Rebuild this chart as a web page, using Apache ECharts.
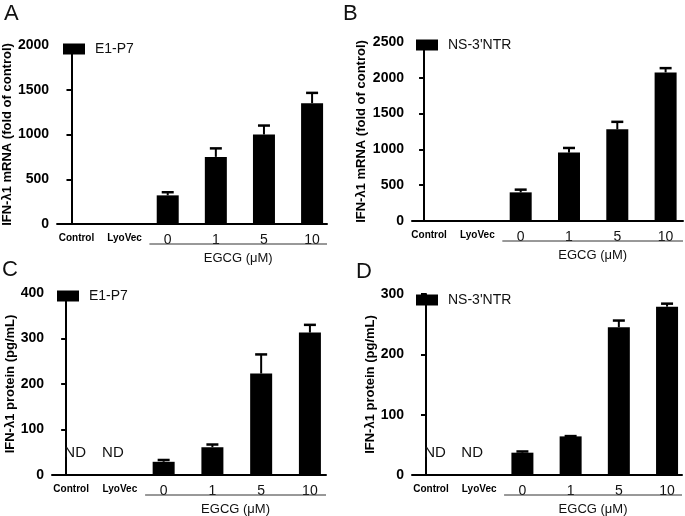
<!DOCTYPE html>
<html>
<head>
<meta charset="utf-8">
<script src="https://cdn.jsdelivr.net/npm/echarts@6/dist/echarts.min.js"></script>
<style>
html,body{margin:0;padding:0;background:#fff;}
#chart{width:685px;height:516px;}
</style>
</head>
<body>
<div id="chart"></div>
<script>
// ---------- data ----------
const categories = ['Control', 'LyoVec', '0', '1', '5', '10'];
const groupLabel = 'EGCG (μM)';

const seriesNames = ['E1-P7', 'NS-3\'NTR', 'E1-P7', 'NS-3\'NTR'];
const yTitles = ['IFN-λ1 mRNA (fold of control)', 'IFN-λ1 mRNA (fold of control)',
                 'IFN-λ1 protein (pg/mL)', 'IFN-λ1 protein (pg/mL)'];
const panelLetters = ['A', 'B', 'C', 'D'];

// panel A: mRNA, E1-P7
const mrnaE1 = [null, null, 320, 750, 1000, 1350];
const mrnaE1Err = [null, null, 35, 95, 100, 115];
// panel B: mRNA, NS-3'NTR
const mrnaNS = [null, null, 400, 955, 1280, 2075];
const mrnaNSErr = [null, null, 38, 65, 105, 60];
// panel C: protein, E1-P7
const protE1 = [null, null, 29, 61, 223, 313];
const protE1Err = [null, null, 4, 6, 42, 17];
// panel D: protein, NS-3'NTR
const protNS = [null, null, 37, 64, 245, 279];
const protNSErr = [null, null, 2, 0.5, 11, 5];
// not detected markers (panels C, D)
const notDetected = ['ND', 'ND', null, null, null, null];

// y axis ticks
const yMax = [2000, 2500, 400, 300];
const yStep = [500, 500, 100, 100];

// ---------- layout ----------
const grids = [
  {left: 57, top: 45, width: 270, height: 179},
  {left: 412, top: 42, width: 271, height: 179},
  {left: 52, top: 293, width: 274, height: 182},
  {left: 412, top: 294, width: 270, height: 181}
];
const xRange = [[-0.3, 5.31], [-0.25, 5.36], [-0.29, 5.33], [-0.29, 5.31]];
const nameGaps = [41, 44, 35, 34];
const legendPos = [{left: 63, top: 42}, {left: 416, top: 38}, {left: 57, top: 289}, {left: 416, top: 293}];
const letterPos = [[4, 3], [343, 3], [2, 259], [356, 261]];
const ndShift = [9, -2];

const panelValues = [mrnaE1, mrnaNS, protE1, protNS];
const panelErrs = [mrnaE1Err, mrnaNSErr, protE1Err, protNSErr];
const panelND = [null, null, notDetected, notDetected];

const FONT = 'Liberation Sans, Arial, sans-serif';

const chart = echarts.init(document.getElementById('chart'), null, {renderer: 'canvas'});

const xAxes = [], yAxes = [], series = [], legends = [], graphics = [];

for (let p = 0; p < 4; p++) {
  xAxes.push({
    type: 'value', gridIndex: p, min: xRange[p][0], max: xRange[p][1],
    splitLine: {show: false},
    axisLine: {show: true, onZero: false, lineStyle: {color: '#000', width: 2}},
    axisTick: {show: false},
    axisLabel: {
      show: true, customValues: [0, 1, 2, 3, 4, 5], margin: 9,
      formatter: function (v) {
        const c = categories[Math.round(v)];
        if (Math.round(v) < 2) return '{b|' + c + '}';
        return '{n|' + c + '}';
      },
      rich: {
        b: {fontFamily: FONT, fontWeight: 'bold', fontSize: 10, color: '#000', padding: [0, 0, 0, 10]},
        n: {fontFamily: FONT, fontSize: 14, color: '#111'}
      }
    }
  });
  yAxes.push({
    type: 'value', gridIndex: p, min: 0, max: yMax[p], interval: yStep[p],
    name: yTitles[p], nameLocation: 'middle', nameRotate: 90, nameGap: nameGaps[p],
    nameTextStyle: {fontFamily: FONT, fontWeight: 'bold', fontSize: 13, color: '#000'},
    splitLine: {show: false},
    axisLine: {show: true, lineStyle: {color: '#000', width: 2}},
    axisTick: {show: true, inside: false, length: 5, lineStyle: {color: '#000', width: 2}},
    axisLabel: {fontFamily: FONT, fontWeight: 'bold', fontSize: 14, color: '#000', margin: 8,
      formatter: function (v) { return String(v); }}
  });

  const vals = panelValues[p], errs = panelErrs[p];
  series.push({
    name: seriesNames[p], type: 'bar', xAxisIndex: p, yAxisIndex: p,
    barWidth: 22, itemStyle: {color: '#000'},
    data: vals.map((v, i) => v == null ? null : [i, v]).filter(d => d),
    z: 2
  });
  series.push({
    type: 'custom', xAxisIndex: p, yAxisIndex: p, clip: false, z: 3,
    data: vals.map((v, i) => v == null ? null : [i, v, errs[i]]).filter(d => d),
    renderItem: function (params, api) {
      const x = api.value(0), y = api.value(1), e = api.value(2);
      const b = api.coord([x, y]);
      const t = api.coord([x, y + e]);
      const hw = 6;
      return {
        type: 'group', children: [
          {type: 'line', shape: {x1: b[0], y1: b[1], x2: t[0], y2: t[1]}, style: {stroke: '#000', lineWidth: 2}},
          {type: 'line', shape: {x1: t[0] - hw, y1: t[1], x2: t[0] + hw, y2: t[1]}, style: {stroke: '#000', lineWidth: 2.5}}
        ]
      };
    }
  });
  if (panelND[p]) {
    const nd = panelND[p];
    series.push({
      type: 'bar', xAxisIndex: p, yAxisIndex: p, barWidth: 22, barGap: '-100%',
      itemStyle: {color: 'transparent'},
      data: nd.map((s, i) => s == null ? null : {value: [i, 0], label: {formatter: s, offset: [ndShift[i], 0]}}).filter(d => d),
      label: {show: true, position: 'top', distance: 15, fontFamily: FONT, fontSize: 15, color: '#111'},
      z: 1
    });
  }
  // EGCG group bracket and label
  series.push({
    type: 'custom', xAxisIndex: p, yAxisIndex: p, clip: false, silent: true,
    data: [[2]],
    renderItem: function (params, api) {
      const s = api.coord([api.value(0) - 0.38, 0]);
      const xEnd = params.coordSys.x + params.coordSys.width;
      const yLine = s[1] + 20;
      return {
        type: 'group', children: [
          {type: 'line', shape: {x1: s[0], y1: yLine, x2: xEnd, y2: yLine}, style: {stroke: '#333', lineWidth: 1}},
          {type: 'text', style: {text: groupLabel, x: (s[0] + xEnd) / 2, y: s[1] + 34, align: 'center', verticalAlign: 'middle',
            fontFamily: FONT, fontSize: 13, fill: '#111'}}
        ]
      };
    }
  });

  legends.push({
    show: true, left: legendPos[p].left, top: legendPos[p].top, padding: 0, orient: 'horizontal',
    data: [{name: seriesNames[p], icon: 'rect'}],
    itemWidth: 22, itemHeight: 11, selectedMode: false,
    textStyle: {fontFamily: FONT, fontSize: 14, color: '#111', padding: [0, 0, 0, 5]}
  });
  graphics.push({
    type: 'text', left: letterPos[p][0], top: letterPos[p][1],
    style: {text: panelLetters[p], fontFamily: FONT, fontSize: 22, fill: '#111'}
  });
}

chart.setOption({
  animation: false,
  backgroundColor: '#fff',
  grid: grids.map(g => Object.assign({containLabel: false}, g)),
  xAxis: xAxes,
  yAxis: yAxes,
  legend: legends,
  series: series,
  graphic: graphics
});
</script>
</body>
</html>
